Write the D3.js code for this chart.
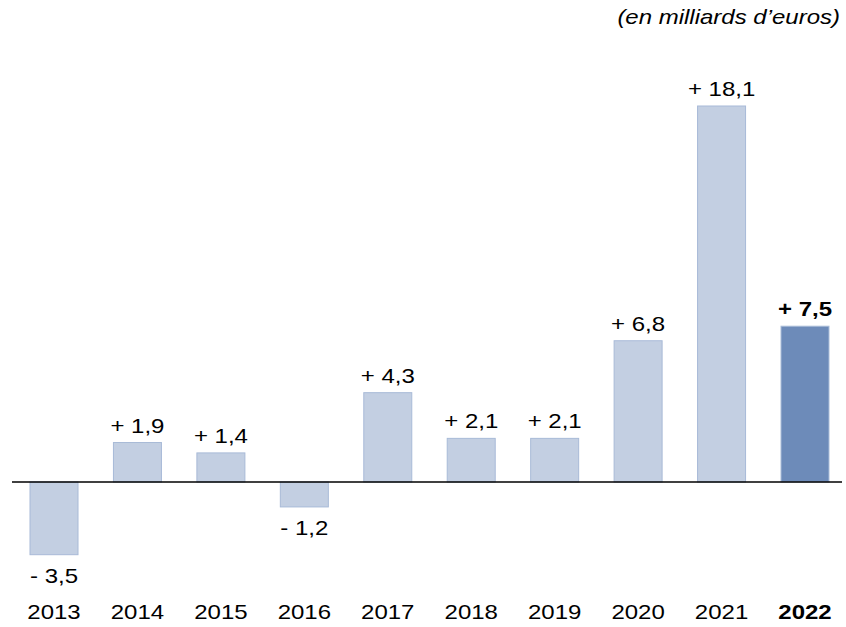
<!DOCTYPE html>
<html>
<head>
<meta charset="utf-8">
<script src="https://cdn.jsdelivr.net/npm/d3@7"></script>
<style>
  body { margin: 0; background: #fff; }
  text { font-family: "Liberation Sans", Arial, sans-serif; fill: #000; }
</style>
</head>
<body>
<svg width="846" height="627"></svg>
<script>
const years = ["2013", "2014", "2015", "2016", "2017", "2018", "2019", "2020", "2021", "2022"];
const values = [-3.5, 1.9, 1.4, -1.2, 4.3, 2.1, 2.1, 6.8, 18.1, 7.5];
const labels = ["- 3,5", "+ 1,9", "+ 1,4", "- 1,2", "+ 4,3", "+ 2,1", "+ 2,1", "+ 6,8", "+ 18,1", "+ 7,5"];
const unit = "(en milliards d\u2019euros)";

const svg = d3.select("svg");

const x = d3.scalePoint()
    .domain(years)
    .range([54, 805]);

const y = d3.scaleLinear()
    .domain([-3.5, 18.1])
    .range([554.7, 106]);

const barW = 48;
const last = years[years.length - 1];
const stretch = 1.2; // text in the original is drawn a bit wide

svg.selectAll(".bar")
    .data(years)
    .enter()
    .append("rect")
    .attr("class", "bar")
    .attr("x", (d) => x(d) - barW / 2)
    .attr("width", barW)
    .attr("y", (d, i) => y(Math.max(0, values[i])))
    .attr("height", (d, i) => Math.abs(y(values[i]) - y(0)))
    .attr("fill", (d) => d == last ? "#6d8bb9" : "#c3cfe2")
    .attr("stroke", (d) => d == last ? "#a9bcd8" : "#a8bad7")
    .attr("stroke-width", 1);

// zero line
svg.append("line")
    .attr("x1", 12).attr("x2", 842)
    .attr("y1", y(0)).attr("y2", y(0))
    .attr("stroke", "#000")
    .attr("stroke-width", 1.3);

// value labels
svg.selectAll(".lbl")
    .data(years)
    .enter()
    .append("text")
    .attr("class", "lbl")
    .attr("transform", (d, i) => {
        const ty = values[i] >= 0 ? y(values[i]) - 10 : y(values[i]) + 28;
        return `translate(${x(d)},${ty}) scale(${stretch},1)`;
    })
    .attr("text-anchor", "middle")
    .attr("font-size", 20)
    .attr("font-weight", (d) => d == last ? "bold" : "normal")
    .text((d, i) => labels[i]);

// year axis
svg.selectAll(".yr")
    .data(years)
    .enter()
    .append("text")
    .attr("class", "yr")
    .attr("transform", (d) => `translate(${x(d)},619) scale(${stretch},1)`)
    .attr("text-anchor", "middle")
    .attr("font-size", 20)
    .attr("font-weight", (d) => d == last ? "bold" : "normal")
    .text((d) => d);

svg.append("text")
    .attr("transform", `translate(840,24) scale(${stretch},1)`)
    .attr("text-anchor", "end")
    .attr("font-size", 20)
    .attr("font-style", "italic")
    .text(unit);
</script>
</body>
</html>
